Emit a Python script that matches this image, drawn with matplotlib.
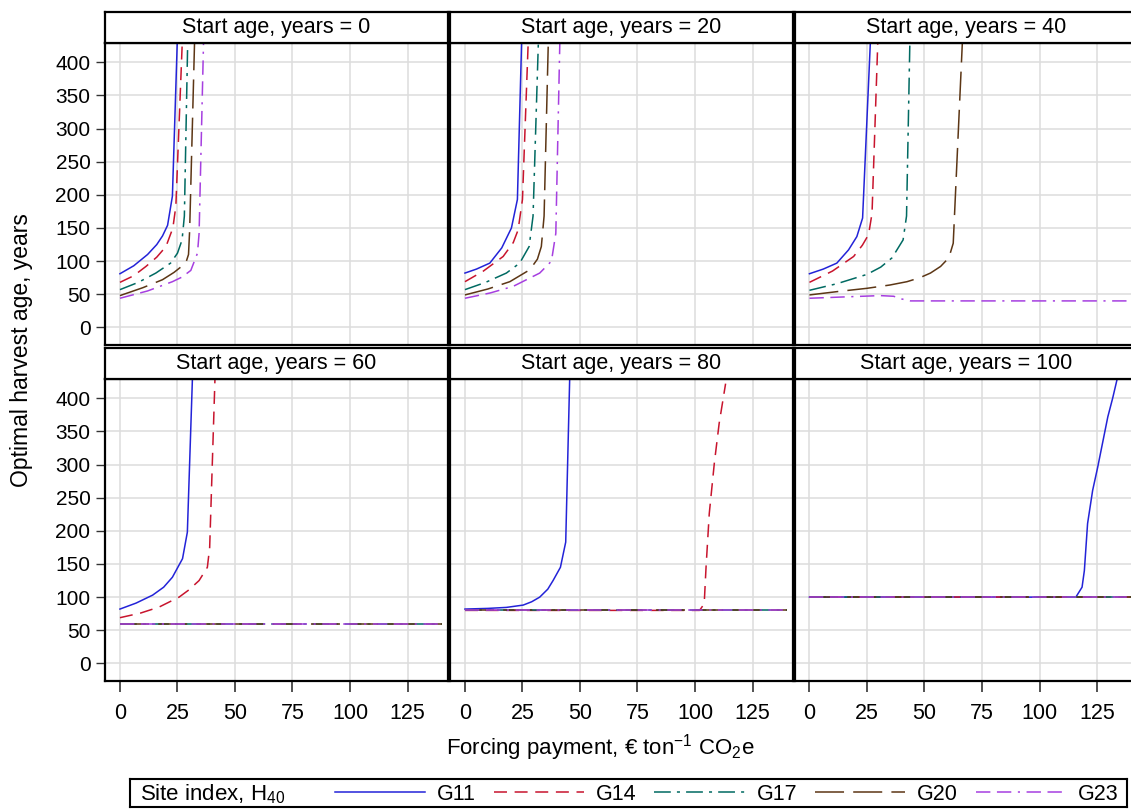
import matplotlib
matplotlib.use("Agg")
import matplotlib.pyplot as plt
from matplotlib.lines import Line2D

plt.rcParams['font.family'] = ['Liberation Sans', 'DejaVu Sans']
plt.rcParams['mathtext.fontset'] = 'custom'
plt.rcParams['mathtext.rm'] = 'Liberation Sans'
plt.rcParams['mathtext.it'] = 'Liberation Sans:italic'

# Panels and series
start_ages = [0, 20, 40, 60, 80, 100]
sites = ['G11', 'G14', 'G17', 'G20', 'G23']
x_ticks = [0, 25, 50, 75, 100, 125]
y_ticks = [0, 50, 100, 150, 200, 250, 300, 350, 400]

# Start age 0
pay_a0_g11 = [0, 6, 12, 16, 18.5, 20.7, 22.8, 25.0]
age_a0_g11 = [81, 93, 110, 125, 138, 154, 198, 440]
pay_a0_g14 = [0, 6, 11.3, 16, 20, 23, 24.3, 27.2]
age_a0_g14 = [68, 78, 92, 106, 122, 150, 183, 440]
pay_a0_g17 = [0, 8, 15.6, 22, 25, 27, 28, 29.5]
age_a0_g17 = [57, 68, 82, 97, 112, 132, 168, 440]
pay_a0_g20 = [0, 10, 18.5, 23.5, 28.6, 29.8, 30.3, 32.5]
age_a0_g20 = [48, 60, 72, 83, 97, 110, 147, 440]
pay_a0_g23 = [0, 12, 22.8, 27, 30.8, 33.7, 34.4, 36.4]
age_a0_g23 = [44, 55, 69, 76, 86, 112, 142, 440]

# Start age 20
pay_a20_g11 = [0, 5, 10.8, 16, 20.2, 22.8, 24.7]
age_a20_g11 = [82, 88, 97, 120, 150, 193, 440]
pay_a20_g14 = [0, 8, 16.6, 21, 23.1, 25, 27.6]
age_a20_g14 = [69, 85, 107, 128, 147, 193, 440]
pay_a20_g17 = [0, 9, 18, 23.8, 27.9, 29.6, 32]
age_a20_g17 = [57, 68, 82, 97, 122, 168, 440]
pay_a20_g20 = [0, 10, 19.5, 28.2, 31.5, 33.2, 34.4, 36.3]
age_a20_g20 = [49, 58, 69, 87, 103, 122, 168, 440]
pay_a20_g23 = [0, 11, 21, 32.5, 37.6, 39.5, 41.3]
age_a20_g23 = [44, 52, 62, 82, 100, 142, 440]

# Start age 40
pay_a40_g11 = [0, 6, 11.9, 17, 20.6, 23.1, 26.6]
age_a40_g11 = [81, 88, 97, 117, 137, 165, 440]
pay_a40_g14 = [0, 10, 19.2, 23, 25.7, 27.2, 29.8]
age_a40_g14 = [68, 85, 107, 124, 140, 172, 440]
pay_a40_g17 = [0, 12, 25, 31, 35.9, 40.7, 42.2, 43.7]
age_a40_g17 = [56, 66, 80, 91, 105, 132, 168, 440]
pay_a40_g20 = [0, 12, 25, 35, 42.4, 48, 52.6, 57, 60.6, 62.5, 66.6]
age_a40_g20 = [49, 54, 59, 64, 69, 75, 82, 92, 105, 127, 440]
pay_a40_g23 = [0, 15, 30.8, 36.6, 40, 43.9, 140]
age_a40_g23 = [44, 46, 48, 47, 43, 40, 40]

# Start age 60
pay_a60_g11 = [0, 7, 14.2, 19, 22.8, 27.2, 29.3, 31.6]
age_a60_g11 = [82, 91, 103, 115, 130, 158, 198, 440]
pay_a60_g14 = [0, 9, 17, 25.7, 30, 34.4, 38, 39, 41.4]
age_a60_g14 = [69, 76, 85, 100, 111, 125, 145, 175, 440]
pay_a60_g17 = [0, 140]
age_a60_g17 = [60, 60]
pay_a60_g20 = [0, 140]
age_a60_g20 = [60, 60]
pay_a60_g23 = [0, 140]
age_a60_g23 = [60, 60]

# Start age 80
pay_a80_g11 = [0, 10, 18, 25.3, 29, 32.5, 36, 38.3, 41.5, 43.8, 45.6]
age_a80_g11 = [82, 83, 84.5, 88, 93, 100, 112, 125, 145, 183, 440]
pay_a80_g14 = [0, 102, 104, 104.8, 106.2, 108.4, 110.5, 113.3]
age_a80_g14 = [80, 80, 90, 145, 226, 302, 362, 422]
pay_a80_g17 = [0, 140]
age_a80_g17 = [80, 80]
pay_a80_g20 = [0, 140]
age_a80_g20 = [80, 80]
pay_a80_g23 = [0, 140]
age_a80_g23 = [80, 80]

# Start age 100
pay_a100_g11 = [0, 115.8, 118.5, 119.5, 120.9, 123.1, 125.3, 129.7, 131.8, 134.5]
age_a100_g11 = [100, 100, 115, 140, 211, 261, 296, 372, 400, 440]
pay_a100_g14 = [0, 140]
age_a100_g14 = [100, 100]
pay_a100_g17 = [0, 140]
age_a100_g17 = [100, 100]
pay_a100_g20 = [0, 140]
age_a100_g20 = [100, 100]
pay_a100_g23 = [0, 140]
age_a100_g23 = [100, 100]

g = globals()

colors = ['#2323d8', '#c8142d', '#006a62', '#5c3615', '#a63fe0']
dashes = [None, (8.5, 5), (11, 4, 2, 4), (19, 6), (9.4, 4.3, 9.4, 4.3, 1.4, 4.3)]

W, H = 1131, 810
fig = plt.figure(figsize=(W / 100, H / 100), dpi=100)

col_left = [105, 450, 794.5]
col_w = 343
row_ax_top = [43, 379]
ax_h = 302
strip_top = [11.7, 347.5]

for i, sa in enumerate(start_ages):
    r, c = divmod(i, 3)
    left = col_left[c] / W
    ax = fig.add_axes([left, 1 - (row_ax_top[r] + ax_h) / H, col_w / W, ax_h / H])
    for k, s in enumerate(sites):
        xs = g[f'pay_a{sa}_{s.lower()}']
        ys = g[f'age_a{sa}_{s.lower()}']
        line, = ax.plot(xs, ys, color=colors[k], lw=1.1, solid_joinstyle='round')
        if dashes[k] is not None:
            line.set_dashes(dashes[k])
    ax.set_xlim(-6.5, 142.6)
    ax.set_ylim(-26.5, 429)
    ax.set_xticks(x_ticks)
    ax.set_yticks(y_ticks)
    ax.grid(True, color='#dddddd', lw=1.1)
    ax.set_axisbelow(True)
    for sp in ax.spines.values():
        sp.set_linewidth(1.6)
        sp.set_color('black')
    if c == 0:
        ax.tick_params(axis='y', direction='out', length=6.5, width=1.0,
                       color='#333333', pad=4, labelsize=15)
    else:
        ax.tick_params(axis='y', length=0, labelleft=False)
    if r == 1:
        ax.tick_params(axis='x', direction='out', length=8, width=1.2,
                       color='#333333', pad=8, labelsize=15.5)
    else:
        ax.tick_params(axis='x', length=0, labelbottom=False)

    st = fig.add_axes([left, 1 - row_ax_top[r] / H, col_w / W,
                       (row_ax_top[r] - strip_top[r]) / H])
    st.set_xticks([])
    st.set_yticks([])
    for sp in st.spines.values():
        sp.set_linewidth(1.6)
    st.text(0.5, 0.48, f'Start age, years = {sa}', ha='center', va='center',
            fontsize=15.5, transform=st.transAxes)

fig.text(22 / W, 1 - 350 / H, 'Optimal harvest age, years', rotation=90,
         ha='center', va='center', fontsize=16.5)
fig.text(600 / W, 1 - 748 / H, 'Forcing payment, € ton$^{-1}$ CO$_2$e',
         ha='center', va='center', fontsize=16)

# Legend box
lg = fig.add_axes([130 / W, 1 - 807 / H, 997 / W, 28 / H])
lg.set_xticks([])
lg.set_yticks([])
for sp in lg.spines.values():
    sp.set_linewidth(1.5)
lg.text(0.01, 0.45, 'Site index, H$_{40}$', ha='left', va='center',
        fontsize=16, transform=lg.transAxes)
handles = []
for k, s in enumerate(sites):
    h = Line2D([], [], color=colors[k], lw=1.1)
    if dashes[k] is not None:
        h.set_dashes(dashes[k])
    handles.append(h)
lg.legend(handles, sites, loc='center left', bbox_to_anchor=(0.2056, 0.45),
          ncol=5, frameon=False, fontsize=15.5, handlelength=4.19,
          handletextpad=0.56, columnspacing=0.82, borderpad=0, borderaxespad=0)

fig.savefig('out.png', dpi=100)
